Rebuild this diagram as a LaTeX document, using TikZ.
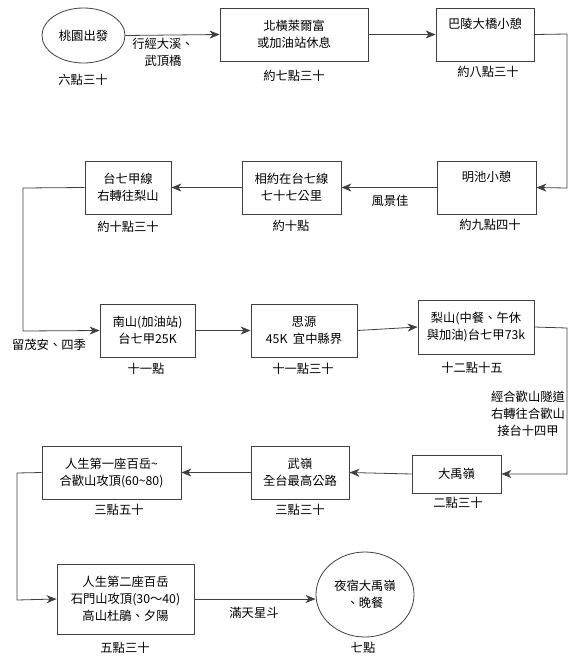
\documentclass[tikz,border=0pt]{standalone}
\usepackage{fontspec}
\setmainfont{Noto Sans CJK TC}
\usetikzlibrary{arrows.meta,shapes.geometric}
\begin{document}
\begin{tikzpicture}[x=1pt,y=-1pt,
  font=\fontsize{12.3}{17}\selectfont,
  box/.style={draw=black!75, line width=0.8pt, rectangle, align=center, inner sep=0pt},
  ell/.style={draw=black!75, line width=0.8pt, ellipse, align=center, inner sep=0pt},
  lbl/.style={align=center, inner sep=0pt},
  arr/.style={draw=black!75, line width=0.8pt, -{Stealth[length=10pt,width=8pt,inset=3pt]}},
  ln/.style={draw=black!75, line width=0.8pt}]
\useasboundingbox (0,0) rectangle (583,664);
% nodes
\node[ell, minimum width=83, minimum height=55] (n1) at (83.5,35.5) {桃園出發};
\node[box, minimum width=148, minimum height=53] (n2) at (294,34.5) {北橫萊爾富\\或加油站休息};
\node[box, minimum width=98, minimum height=53] (n3) at (485,34.5) {巴陵大橋小憩\\\strut};
\node[box, minimum width=99, minimum height=53] (n4) at (486.5,187.5) {明池小憩\\\strut};
\node[box, minimum width=99, minimum height=53] (n5) at (291.5,187.5) {相約在台七線\\七十七公里};
\node[box, minimum width=86, minimum height=53] (n6) at (128,187.5) {台七甲線\\右轉往梨山};
\node[box, minimum width=95, minimum height=53] (n7) at (147.5,330.5) {南山(加油站)\\台七甲25K};
\node[box, minimum width=106, minimum height=53] (n8) at (304,330.5) {思源\\45K\ \ 宜中縣界};
\node[box, minimum width=116, minimum height=54] (n9) at (476,327) {梨山(中餐、午休\\與加油)台七甲73k};
\node[box, minimum width=89, minimum height=38] (n10) at (456.5,474) {大禹嶺};
\node[box, minimum width=98, minimum height=53] (n11) at (300,472.5) {武嶺\\全台最高公路};
\node[box, minimum width=139, minimum height=53] (n12) at (111.5,472.5) {人生第一座百岳\textasciitilde\\合歡山攻頂(60\textasciitilde 80)};
\node[box, minimum width=137, minimum height=70] (n13) at (125.5,599) {人生第二座百岳\\石門山攻頂(30～40)\\高山杜鵑、夕陽};
\node[ell, minimum width=98, minimum height=85] (n14) at (365,594.5) {夜宿大禹嶺\\、晚餐};
% time labels
\node[lbl] (t1) at (83,80) {六點三十};
\node[lbl] (t2) at (294,76) {約七點三十};
\node[lbl] (t3) at (488,72) {約八點三十};
\node[lbl] (t4) at (490,225) {約九點四十};
\node[lbl] (t5) at (291,226) {約十點};
\node[lbl] (t6) at (128,227) {約十點三十};
\node[lbl] (t7) at (146,369) {十一點};
\node[lbl] (t8) at (303,369) {十一點三十};
\node[lbl] (t9) at (472,368) {十二點十五};
\node[lbl] (t10) at (458,503) {二點三十};
\node[lbl] (t11) at (300,510) {三點三十};
\node[lbl] (t12) at (119,510) {三點五十};
\node[lbl] (t13) at (125,648) {五點三十};
\node[lbl] (t14) at (363,648) {七點};
% edge labels
\node[lbl] (l1) at (163,52) {行經大溪、\\武頂橋};
\node[lbl] (l2) at (390,201) {風景佳};
\node[lbl] (l3) at (49,345) {留茂安、四季};
\node[lbl] (l4) at (528,414) {經合歡山隧道\\右轉往合歡山\\接台十四甲};
\node[lbl] (l5) at (254,613) {滿天星斗};
% bend coordinates
\coordinate (c1) at (567,34);
\coordinate (c2) at (567,188);
\coordinate (c3) at (23,188);
\coordinate (c4) at (23,331);
\coordinate (c5) at (567,328);
\coordinate (c6) at (567,474);
\coordinate (c7) at (17,473);
\coordinate (c8) at (17,600);
% edges
\draw[arr] (n1.east) -- (n2.west);
\draw[arr] (n2.east) -- (n3.west);
\draw[arr] (n3.east) -- (c1) -- (c2) -- (n4.east);
\draw[arr] (n4.west) -- (n5.east);
\draw[arr] (n5.west) -- (n6.east);
\draw[arr] (n6.west) -- (c3) -- (c4) -- (n7.west);
\draw[arr] (n7.east) -- (n8.west);
\draw[arr] (n8.east) -- (n9.west);
\draw[arr] (n9.east) -- (c5) -- (c6) -- (n10.east);
\draw[arr] (n10.west) -- (n11.east);
\draw[arr] (n11.west) -- (n12.east);
\draw[arr] (n12.west) -- (c7) -- (c8) -- (n13.west);
\draw[arr] (n13.east) -- (n13.east -| n14.west);
\end{tikzpicture}
\end{document}
